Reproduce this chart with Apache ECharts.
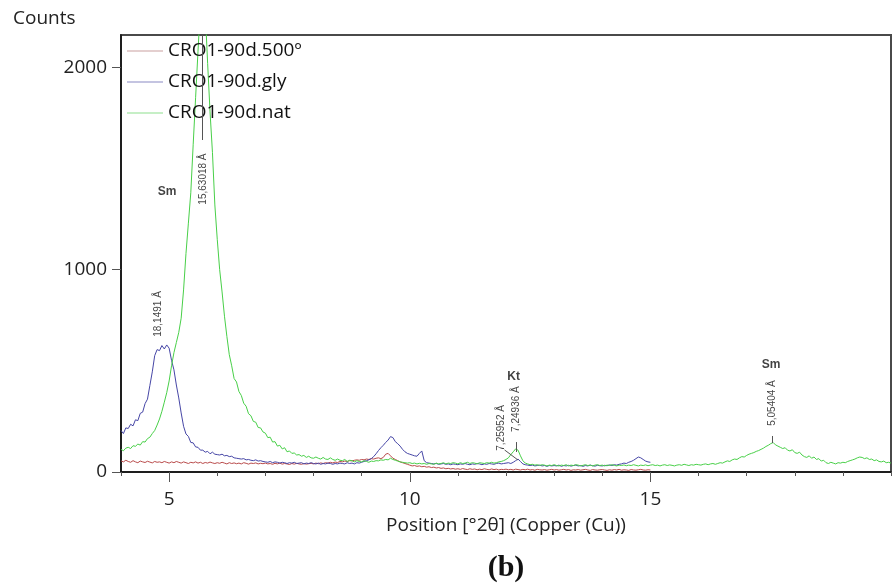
<!DOCTYPE html>
<html>
<head>
<meta charset="utf-8">
<script src="https://cdn.jsdelivr.net/npm/echarts@6/dist/echarts.min.js"></script>
<style>html,body{margin:0;padding:0;background:#fff}#c{width:896px;height:585px}</style>
</head>
<body>
<div id="c"></div>
<script>
// 2-theta grid: first position and step (degrees)
const xStart = 4.0;
const xStep = 0.05;

const seriesNames = ['CRO1-90d.500º', 'CRO1-90d.gly', 'CRO1-90d.nat'];

// CRO1-90d.nat, 4.00 .. 20.00
const natCounts = [
  112,105,118,122,116,130,127,138,133,150,148,165,172,190,205,232,262,300,345,392,
  450,525,590,640,690,760,900,1080,1230,1380,1620,1850,2080,2300,2420,2280,2020,1780,1580,1320,
  1150,1000,890,770,670,580,525,462,445,398,378,340,325,288,278,250,246,220,218,198,
  192,170,172,148,150,128,132,114,120,100,104,92,94,84,86,78,82,72,78,70,
  68,74,68,64,72,64,62,70,62,58,64,58,56,62,52,58,56,50,56,52,
  50,56,52,48,54,52,56,55,60,58,62,60,68,62,58,54,50,48,46,44,
  46,42,44,40,43,40,42,38,42,40,38,44,40,42,46,40,44,42,46,44,
  40,46,42,44,48,42,46,44,40,46,44,42,46,44,48,44,46,50,52,56,
  62,70,86,100,114,108,80,56,44,40,36,38,34,36,32,36,34,30,34,32,
  36,32,30,34,32,36,30,34,32,36,34,30,33,36,32,34,30,34,36,32,
  34,30,34,32,36,33,30,34,32,35,31,34,32,36,33,30,34,32,35,31,
  34,36,32,34,30,34,36,32,35,33,30,34,36,33,38,35,32,36,34,38,
  36,34,38,40,36,40,42,38,42,46,44,50,55,52,60,64,62,70,76,74,
  82,88,92,96,102,106,112,118,126,132,140,146,134,128,122,116,120,108,104,110,
  96,92,98,84,76,72,80,68,74,62,66,54,58,46,42,48,44,40,46,44,
  48,46,52,56,60,64,70,74,72,66,70,62,64,56,60,52,50,54,46,48,
  44
];

// CRO1-90d.gly, 4.00 .. 15.00
const glyCounts = [
  205,190,218,215,236,228,258,254,290,296,338,360,428,495,575,605,600,625,608,628,
  612,552,505,430,366,292,226,188,176,146,144,124,122,108,108,98,102,90,98,88,
  86,84,88,80,82,76,78,70,68,66,64,66,60,62,58,56,60,54,56,52,
  50,48,52,46,50,48,44,48,46,42,46,44,48,42,44,46,40,44,42,46,
  42,40,44,38,42,40,44,42,38,42,40,44,42,40,46,42,44,40,46,44,
  48,52,56,60,66,76,90,106,120,132,146,158,175,170,150,140,128,112,100,92,
  88,84,80,78,92,104,56,46,44,42,40,42,38,40,42,38,40,36,40,38,
  36,40,38,42,38,36,40,38,42,40,36,40,38,42,40,38,42,44,40,42,
  44,46,42,48,56,64,52,40,36,34,32,34,30,32,34,30,32,28,32,30,
  32,30,34,28,32,30,33,29,32,34,30,32,28,32,30,34,31,29,33,31,
  30,33,31,35,32,36,34,38,40,44,42,48,52,58,66,74,70,62,54,50,
  48
];

// CRO1-90d.500º, 4.00 .. 15.00
const c500Counts = [
  55,50,58,52,48,56,50,46,54,50,47,53,49,45,52,48,50,46,52,48,
  44,50,46,52,48,44,50,46,42,48,45,50,44,48,42,47,44,49,45,42,
  46,43,48,44,40,46,42,45,41,44,40,46,43,39,44,42,45,40,43,41,
  44,40,42,38,43,40,44,39,42,40,37,42,39,43,40,38,42,39,41,43,
  40,44,41,45,42,46,44,48,45,49,47,52,50,54,52,56,55,58,60,58,
  62,60,64,62,66,64,68,70,66,72,88,92,80,68,62,56,50,46,42,38,
  34,30,32,28,30,26,28,24,26,22,24,20,22,18,20,16,18,15,17,14,
  16,13,17,14,12,16,13,15,11,14,12,16,13,11,15,12,14,10,13,12,
  14,11,13,10,14,12,10,13,11,14,10,12,9,13,11,10,12,9,11,13,
  10,12,9,11,13,10,12,8,11,10,12,9,11,13,10,8,12,10,9,11,
  12,10,8,11,9,12,10,13,9,11,10,8,12,10,9,11,13,10,9,11,
  10
];

// axis ticks
const xLabelTicks = [5, 10, 15];
const yLabelTicks = [0, 1000, 2000];

// peak annotations: [2theta, counts, text, rotated?, bold?]
const peakLabels = [
  [5.71, 1448, '15,63018 Å', true, false],
  [4.96, 1384, 'Sm', false, true],
  [4.77, 781, '18,1491 Å', true, false],
  [12.16, 470, 'Kt', false, true],
  [11.91, 218, '7,25952 Å', true, false],
  [12.22, 311, '7,24936 Å', true, false],
  [17.51, 529, 'Sm', false, true],
  [17.53, 341, '5,05404 Å', true, false]
];
// peak marker segments: [x1, y1, x2, y2]
const peakMarkers = [
  [5.69, 2160, 5.69, 1641],
  [12.22, 148, 12.22, 99],
  [11.97, 109, 12.25, 59],
  [17.53, 178, 17.53, 143]
];

const toPairs = arr => arr.map((v, i) => [+(xStart + i * xStep).toFixed(2), v]);

const chart = echarts.init(document.getElementById('c'), null, {renderer: 'canvas'});
const FONT = '"Open Sans", "Noto Sans", sans-serif';

chart.setOption({
  animation: false,
  backgroundColor: '#fff',
  grid: {left: 121, right: 5, top: 35, bottom: 113, show: true, borderColor: '#4a4a4a', borderWidth: 2, backgroundColor: 'transparent'},
  legend: {
    orient: 'vertical', left: 122, top: 36,
    icon: 'rect', itemWidth: 36, itemHeight: 1.2, itemGap: 11,
    textStyle: {fontFamily: FONT, fontSize: 19, color: '#111', lineHeight: 20},
    data: [
      {name: seriesNames[0], itemStyle: {color: '#c9a0a0'}},
      {name: seriesNames[1], itemStyle: {color: '#8a8ac4'}},
      {name: seriesNames[2], itemStyle: {color: '#8ee08e'}}
    ]
  },
  xAxis: [
    {
      type: 'value', min: 4, max: 20, interval: 1, position: 'bottom',
      axisLine: {show: true, onZero: false, lineStyle: {color: '#111', width: 1.5}},
      axisTick: {show: true, length: 4, lineStyle: {color: '#555'}},
      axisLabel: {show: false}, splitLine: {show: false}
    },
    {
      type: 'value', min: 4, max: 20, position: 'bottom',
      axisLine: {show: false, onZero: false},
      axisTick: {show: true, length: 10, customValues: xLabelTicks, lineStyle: {color: '#555'}},
      axisLabel: {show: true, customValues: xLabelTicks, formatter: v => String(v), fontFamily: FONT, fontSize: 19, color: '#222', margin: 18},
      splitLine: {show: false}
    }
  ],
  yAxis: {
    type: 'value', min: 0, max: 2160,
    axisLine: {show: true, lineStyle: {color: '#111', width: 1.5}},
    axisTick: {show: true, length: 9, customValues: yLabelTicks, lineStyle: {color: '#555'}},
    axisLabel: {show: true, customValues: yLabelTicks, formatter: v => String(v), fontFamily: FONT, fontSize: 19, color: '#222', margin: 14},
    splitLine: {show: false}
  },
  series: [
    {name: seriesNames[0], type: 'line', symbol: 'none', data: toPairs(c500Counts), lineStyle: {color: '#b84a4a', width: 1}, itemStyle: {color: '#b84a4a'}, clip: true},
    {name: seriesNames[1], type: 'line', symbol: 'none', data: toPairs(glyCounts), lineStyle: {color: '#4646a6', width: 1}, itemStyle: {color: '#4646a6'}, clip: true},
    {name: seriesNames[2], type: 'line', symbol: 'none', data: toPairs(natCounts), lineStyle: {color: '#48cf48', width: 1}, itemStyle: {color: '#48cf48'}, clip: true},
    {
      name: 'peaks', type: 'scatter', symbolSize: 0, silent: true,
      data: peakLabels.map(p => ({
        value: [p[0], p[1]],
        label: {
          show: true, position: 'inside', formatter: p[2], rotate: p[3] ? 90 : 0,
          fontFamily: '"Liberation Sans", Arial, sans-serif',
          fontSize: p[4] ? 12 : 10, fontWeight: p[4] ? 'bold' : 'normal', color: '#111'
        }
      })),
      markLine: {
        silent: true, symbol: ['none', 'none'], label: {show: false},
        lineStyle: {color: '#555', width: 1, type: 'solid'},
        data: peakMarkers.map(m => [{coord: [m[0], m[1]]}, {coord: [m[2], m[3]]}])
      }
    }
  ],
  graphic: [
    {type: 'text', left: 13, top: 9, style: {text: 'Counts', fontFamily: FONT, fontSize: 19, fill: '#222'}},
    {type: 'text', x: 506, y: 526, style: {text: 'Position [°2θ] (Copper (Cu))', fontFamily: FONT, fontSize: 19, fill: '#222', align: 'center', verticalAlign: 'middle'}},
    {type: 'text', x: 506, y: 568, style: {text: '(b)', fontFamily: '"Liberation Serif", "Times New Roman", serif', fontWeight: 'bold', fontSize: 30, fill: '#111', align: 'center', verticalAlign: 'middle'}}
  ]
});
</script>
</body>
</html>
